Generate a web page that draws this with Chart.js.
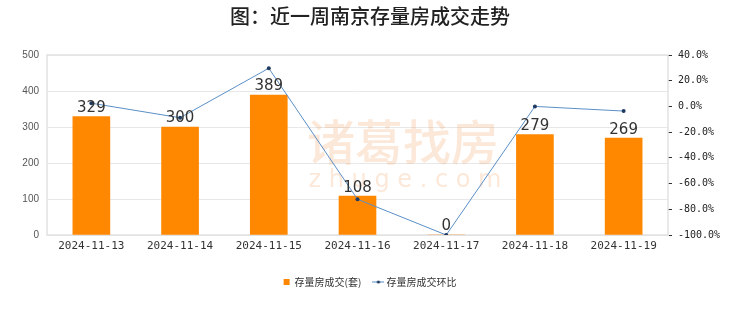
<!DOCTYPE html>
<html>
<head>
<meta charset="utf-8">
<script src="https://cdn.jsdelivr.net/npm/chart.js@4.4.0/dist/chart.umd.min.js"></script>
<style>
  html, body { margin: 0; padding: 0; background: #fff; }
  #wrap { width: 740px; height: 312px; }
</style>
</head>
<body>
<div id="wrap"><canvas id="c" width="740" height="312"></canvas></div>
<script>
var days = ['2024-11-13', '2024-11-14', '2024-11-15', '2024-11-16', '2024-11-17', '2024-11-18', '2024-11-19'];
var deals = [329, 300, 389, 108, 0, 279, 269];
var dealsChange = [2.5, -8.8, 29.7, -72.2, -100, 0, -3.6];
var leftTicks = [0, 100, 200, 300, 400, 500];
var rightTicks = [-100, -80, -60, -40, -20, 0, 20, 40];

var cjk = '"Noto Sans CJK SC", "Noto Sans", sans-serif';

// legend icon for the line series: short line with a dot
var lineIcon = document.createElement('canvas');
lineIcon.width = 12; lineIcon.height = 6;
(function () {
    var g = lineIcon.getContext('2d');
    g.strokeStyle = '#5b8fc7'; g.lineWidth = 1;
    g.beginPath(); g.moveTo(0, 3); g.lineTo(12, 3); g.stroke();
    g.fillStyle = '#1f3a5f';
    g.beginPath(); g.arc(6, 3, 1.6, 0, Math.PI * 2); g.fill();
})();

var boxPlugin = {
    id: 'box',
    beforeDatasetsDraw: function (chart) {
        var a = chart.chartArea, ctx = chart.ctx;
        ctx.save();
        // watermark
        ctx.fillStyle = 'rgba(240, 150, 80, 0.22)';
        ctx.textAlign = 'center';
        ctx.textBaseline = 'middle';
        ctx.font = '500 48px ' + cjk;
        ctx.fillText('诸葛找房', 403, 142);
        ctx.font = '24px "DejaVu Sans", sans-serif';
        ctx.fillText('z h u g e . c o m', 405, 181);
        // plot frame
        ctx.strokeStyle = '#e2e2e2';
        ctx.lineWidth = 1.5;
        ctx.strokeRect(a.left, a.top, a.right - a.left, a.bottom - a.top);
        ctx.restore();
    },
    afterDatasetsDraw: function (chart) {
        var ctx = chart.ctx;
        var meta = chart.getDatasetMeta(0);
        ctx.save();
        ctx.fillStyle = '#333';
        ctx.font = '15px "DejaVu Sans", sans-serif';
        ctx.textAlign = 'center';
        ctx.textBaseline = 'bottom';
        meta.data.forEach(function (bar, i) {
            ctx.fillText(String(deals[i]), bar.x, bar.y - 1);
        });
        ctx.restore();
    }
};

var ctx = document.getElementById('c').getContext('2d');
var chart = new Chart(ctx, {
    data: {
        labels: days,
        datasets: [{
            type: 'bar',
            label: '存量房成交(套)',
            data: deals,
            backgroundColor: '#ff8800',
            barThickness: 37,
            yAxisID: 'y',
            order: 2
        }, {
            type: 'line',
            label: '存量房成交环比',
            data: dealsChange,
            borderColor: '#5b8fc7',
            borderWidth: 1,
            pointRadius: 2,
            pointBackgroundColor: '#1f3a5f',
            pointBorderColor: '#1f3a5f',
            pointBorderWidth: 0,
            tension: 0,
            yAxisID: 'y1',
            order: 1
        }]
    },
    options: {
        responsive: false,
        animation: false,
        devicePixelRatio: 1,
        layout: { padding: { left: 0, right: 0, top: 0, bottom: 15 } },
        plugins: {
            title: {
                display: true,
                text: '图：近一周南京存量房成交走势',
                color: '#222',
                font: { family: cjk, size: 20, weight: '500' },
                padding: { top: 4, bottom: 27 }
            },
            legend: {
                position: 'bottom',
                labels: {
                    usePointStyle: true,
                    boxWidth: 6,
                    boxHeight: 6,
                    padding: 14,
                    color: '#333',
                    font: { family: cjk, size: 10 },
                    sort: function (a, b) { return a.datasetIndex - b.datasetIndex; },
                    generateLabels: function (c) {
                        var items = Chart.defaults.plugins.legend.labels.generateLabels(c);
                        items.forEach(function (it) {
                            if (it.datasetIndex === 0) {
                                it.pointStyle = 'rect';
                                it.fillStyle = '#ff8800';
                                it.strokeStyle = '#ff8800';
                            } else {
                                it.pointStyle = lineIcon;
                            }
                        });
                        return items;
                    }
                }
            },
            tooltip: { enabled: false }
        },
        scales: {
            x: {
                grid: { display: false, drawTicks: false },
                border: { color: '#e2e2e2' },
                ticks: {
                    color: '#333',
                    padding: 5,
                    font: { family: '"DejaVu Sans Mono", monospace', size: 11 },
                    maxRotation: 0
                },
                afterFit: function (s) { s.height = 28; }
            },
            y: {
                position: 'left',
                min: leftTicks[0],
                max: leftTicks[leftTicks.length - 1],
                afterBuildTicks: function (s) { s.ticks = leftTicks.map(function (v) { return { value: v }; }); },
                grid: { color: '#e8e8e8', drawTicks: false },
                border: { display: false },
                ticks: {
                    color: '#555',
                    padding: 8,
                    font: { family: '"Liberation Sans", sans-serif', size: 10 }
                },
                afterFit: function (s) { s.width = 47; }
            },
            y1: {
                position: 'right',
                min: -100,
                max: 40,
                ticks: {
                    stepSize: 10,
                    color: '#222',
                    padding: 6,
                    font: { family: '"DejaVu Sans Mono", monospace', size: 10 },
                    callback: function (v) {
                        return rightTicks.indexOf(v) >= 0 ? v.toFixed(1) + '%' : '';
                    }
                },
                grid: { drawOnChartArea: false, drawTicks: true, tickLength: 4, color: '#333', offset: false },
                border: { display: false },
                afterFit: function (s) { s.width = 72; }
            }
        }
    },
    plugins: [boxPlugin]
});
</script>
</body>
</html>
